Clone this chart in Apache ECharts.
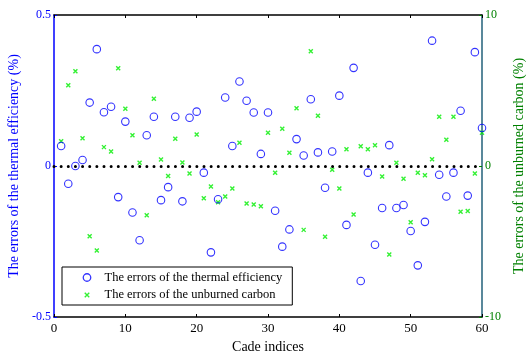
<!DOCTYPE html>
<html><head><meta charset="utf-8">
<script src="https://cdn.jsdelivr.net/npm/echarts@6/dist/echarts.min.js"></script>
<style>html,body{margin:0;padding:0;background:#fff}#c{width:527px;height:351px}</style>
</head><body><div id="c"></div>
<script>
const cadeIdx = [1,2,3,4,5,6,7,8,9,10,11,12,13,14,15,16,17,18,19,20,21,22,23,24,25,26,27,28,29,30,31,32,33,34,35,36,37,38,39,40,41,42,43,44,45,46,47,48,49,50,51,52,53,54,55,56,57,58,59,60];
const thermalErr = [0.066,-0.059,0.0,0.02,0.21,0.387,0.178,0.196,-0.103,0.147,-0.154,-0.246,0.102,0.163,-0.113,-0.07,0.163,-0.117,0.16,0.18,-0.022,-0.286,-0.11,0.227,0.066,0.28,0.216,0.177,0.04,0.177,-0.148,-0.267,-0.21,0.089,0.035,0.221,0.045,-0.072,0.048,0.233,-0.195,0.325,-0.381,-0.022,-0.261,-0.139,0.069,-0.139,-0.129,-0.215,-0.329,-0.185,0.415,-0.029,-0.101,-0.022,0.183,-0.098,0.377,0.126];
const carbonErr = [1.64,5.35,6.28,1.84,-4.65,-5.6,1.25,0.96,6.48,3.79,2.04,0.21,-3.26,4.45,0.43,-0.67,1.8,0.23,-0.5,2.09,-2.13,-1.36,-2.4,-2.02,-1.49,1.54,-2.48,-2.55,-2.66,2.2,-0.45,2.46,0.87,3.83,-4.23,7.6,3.32,-4.69,-0.25,-1.49,1.11,-3.21,1.31,1.11,1.38,-0.7,-5.86,0.21,-0.85,-3.72,-0.45,-0.61,0.45,3.26,1.74,3.26,-3.03,-2.98,-0.5,2.2];
const seriesNames = ['The errors of the thermal efficiency','The errors of the unburned carbon'];
const xTicks = {min:0,max:60,interval:10};
const leftTicks = {min:-0.5,max:0.5,interval:0.5};
const rightTicks = {min:-10,max:10,interval:10};

const FONT = 'Liberation Serif';
const BLUE = '#0000ff', GREEN = '#008000', LIME = '#00ee00';
const XSYM = 'path://M0,0L10,10M10,0L0,10';
const XSYM_LEG = 'path://M-5,-5M15,15M0,0L10,10M10,0L0,10';
const CIRC_LEG = 'path://M-2,-2M22,22M0,10A10,10,0,1,1,20,10A10,10,0,1,1,0,10Z';
const chart = echarts.init(document.getElementById('c'), null, {renderer:'canvas'});
chart.setOption({
  animation:false,
  backgroundColor:'#fff',
  textStyle:{fontFamily:FONT},
  grid:{left:54,right:45,top:15,bottom:34,outerBoundsMode:'none',containLabel:false},
  legend:{
    orient:'vertical', left:62, top:267,
    padding:[4,10,3,18], itemWidth:9, itemHeight:9, itemGap:4,
    borderColor:'#000', borderWidth:1, borderRadius:0, backgroundColor:'#fff',
    textStyle:{fontFamily:FONT, fontSize:12.5, color:'#000', padding:[0,0,0,8]},
    data:[
      {name:seriesNames[0], icon:CIRC_LEG, itemStyle:{color:'rgba(0,0,0,0)',borderColor:BLUE,borderWidth:1.3}},
      {name:seriesNames[1], icon:XSYM_LEG, itemStyle:{color:'none',borderColor:LIME,borderWidth:1.4}}
    ]
  },
  xAxis:[{
    type:'value', min:xTicks.min, max:xTicks.max, interval:xTicks.interval, position:'bottom',
    name:'Cade indices', nameLocation:'middle', nameGap:21,
    nameTextStyle:{fontFamily:FONT,fontSize:14,color:'#000'},
    axisLine:{onZero:false,lineStyle:{color:'#000',width:1.5}},
    axisTick:{inside:true,length:3,lineStyle:{color:'#000'}},
    axisLabel:{fontFamily:FONT,fontSize:13,color:'#000',margin:5},
    splitLine:{show:false}
  },{
    type:'value', min:xTicks.min, max:xTicks.max, interval:xTicks.interval, position:'top',
    axisLine:{onZero:false,lineStyle:{color:'#000',width:1.5}},
    axisTick:{inside:true,length:3,lineStyle:{color:'#000'}},
    axisLabel:{show:false}, splitLine:{show:false}
  }],
  yAxis:[{
    type:'value', min:leftTicks.min, max:leftTicks.max, interval:leftTicks.interval, position:'left',
    name:'The errors of the thermal efficiency (%)', nameLocation:'middle', nameGap:28, nameRotate:90,
    nameTextStyle:{fontFamily:FONT,fontSize:14,color:BLUE},
    axisLine:{onZero:false,lineStyle:{color:BLUE,width:1.5}},
    axisTick:{inside:true,length:3,lineStyle:{color:BLUE}},
    axisLabel:{fontFamily:FONT,fontSize:12,color:BLUE,margin:3},
    splitLine:{show:false}
  },{
    type:'value', min:rightTicks.min, max:rightTicks.max, interval:rightTicks.interval, position:'right',
    name:'The errors of the unburned carbon (%)', nameLocation:'middle', nameGap:28, nameRotate:90,
    nameTextStyle:{fontFamily:FONT,fontSize:14,color:GREEN},
    axisLine:{onZero:false,lineStyle:{color:'#22607a',width:1.5}},
    axisTick:{inside:true,length:3,lineStyle:{color:GREEN}},
    axisLabel:{fontFamily:FONT,fontSize:12,color:GREEN,margin:3},
    splitLine:{show:false}
  }],
  series:[{
    name:seriesNames[0], type:'scatter', xAxisIndex:0, yAxisIndex:0, z:3,
    symbol:'circle', symbolSize:7.5,
    itemStyle:{color:'rgba(0,0,0,0)',borderColor:BLUE,borderWidth:1.1},
    data:cadeIdx.map((x,i)=>[x,thermalErr[i]]),
    markLine:{silent:true,symbol:['none','none'],label:{show:false},
      lineStyle:{color:'#000',width:3,type:[0.01,7.133],cap:'round'},
      data:[{yAxis:0}]}
  },{
    name:seriesNames[1], type:'scatter', xAxisIndex:0, yAxisIndex:1, z:2,
    symbol:XSYM, symbolSize:4,
    itemStyle:{color:'none',borderColor:LIME,borderWidth:1.4},
    data:cadeIdx.map((x,i)=>[x,carbonErr[i]])
  }]
});
</script></body></html>
